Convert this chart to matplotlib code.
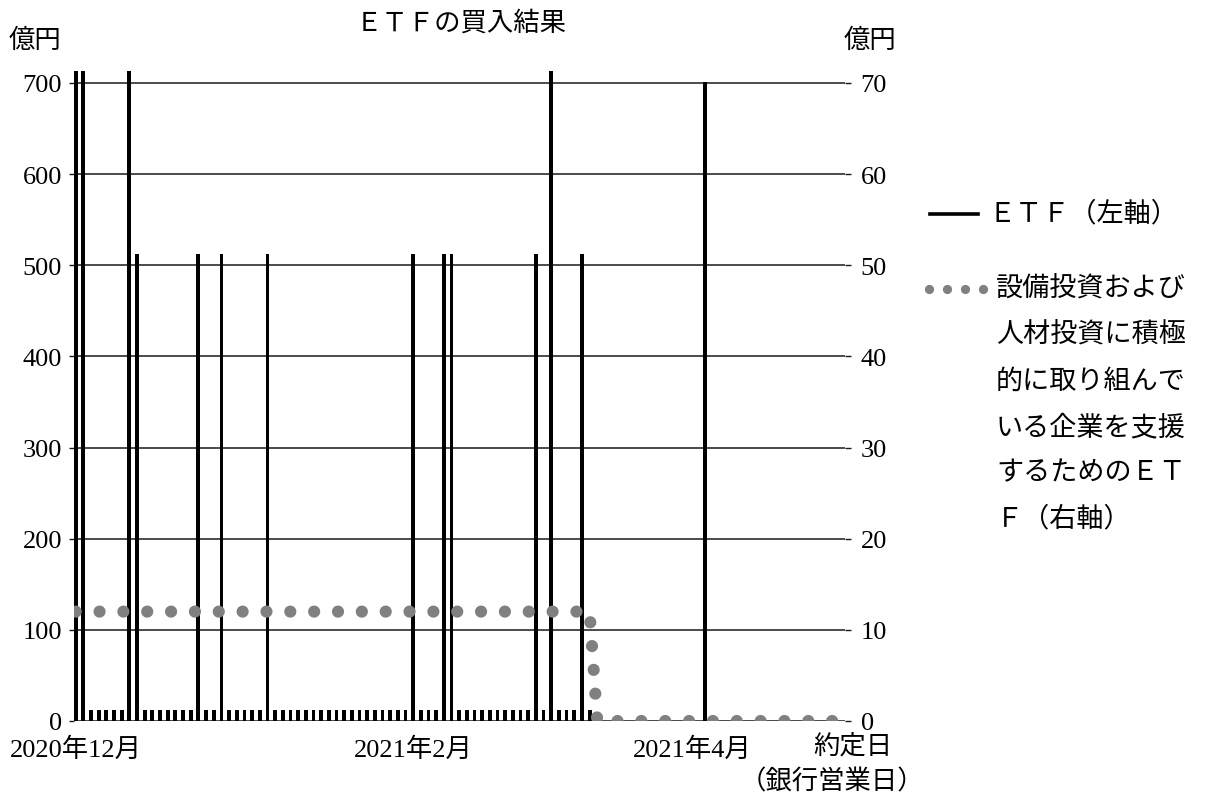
import numpy as np
import matplotlib.pyplot as plt
from matplotlib.lines import Line2D

plt.rcParams['font.family'] = ['Liberation Serif', 'Noto Sans CJK JP']

# ETF買入額（左軸、億円） 約定日（銀行営業日）ごと
etf = [1013, 1013, 12, 12, 12, 12, 12, 1013, 512, 12,
       12, 12, 12, 12, 12, 12, 512, 12, 12, 512,
       12, 12, 12, 12, 12, 512, 12, 12, 12, 12,
       12, 12, 12, 12, 12, 12, 12, 12, 12, 12,
       12, 12, 12, 12, 512, 12, 12, 12, 512, 512,
       12, 12, 12, 12, 12, 12, 12, 12, 12, 12,
       512, 12, 1013, 12, 12, 12, 512, 12, 0, 0,
       0, 0, 0, 0, 0, 0, 0, 0, 0, 0,
       0, 0, 701, 0, 0, 0, 0, 0, 0, 0,
       0, 0, 0, 0, 0, 0, 0, 0, 0, 0,
       0]

# 設備投資および人材投資に積極的に取り組んでいる企業を支援するためのETF（右軸、億円）
special = [12, 12, 12, 12, 12, 12, 12, 12, 12, 12,
           12, 12, 12, 12, 12, 12, 12, 12, 12, 12,
           12, 12, 12, 12, 12, 12, 12, 12, 12, 12,
           12, 12, 12, 12, 12, 12, 12, 12, 12, 12,
           12, 12, 12, 12, 12, 12, 12, 12, 12, 12,
           12, 12, 12, 12, 12, 12, 12, 12, 12, 12,
           12, 12, 12, 12, 12, 12, 12, 12, 0, 0,
           0, 0, 0, 0, 0, 0, 0, 0, 0, 0,
           0, 0, 0, 0, 0, 0, 0, 0, 0, 0,
           0, 0, 0, 0, 0, 0, 0, 0, 0, 0,
           0]

month_labels = ['2020年12月', '2021年2月', '2021年4月']
month_pos = [0, 44, 80.4]

legend_etf = 'ＥＴＦ（左軸）'
legend_special = ['設備投資および', '人材投資に積極', '的に取り組んで',
                  'いる企業を支援', 'するためのＥＴ', 'Ｆ（右軸）']

days = np.arange(len(etf))
W, H = 1216, 812
FS = 19

fig = plt.figure(figsize=(W / 100, H / 100), dpi=100)
ax = fig.add_axes([74 / W, 1 - 722 / H, (845 - 74) / W, (722 - 72) / H])

ax.bar(days, etf, width=0.5, color='black', zorder=2)
ax.set_xlim(-0.22, 100.3)
ax.set_ylim(0, 713)
ax.set_yticks(range(0, 701, 100))
ax.yaxis.grid(True, color='#1a1a1a', lw=1.1)
ax.set_axisbelow(True)
for s in ax.spines.values():
    s.set_visible(False)
ax.tick_params(axis='y', length=3.6, width=1, color='#1a1a1a', pad=5, labelsize=FS)
ax.set_xticks(month_pos)
ax.set_xticklabels(month_labels)
ax.tick_params(axis='x', length=0, pad=11, labelsize=FS)

ax2 = ax.twinx()
ax2.plot(days, special, color='#808080', lw=8.8, linestyle=(0, (0.001, 1.95)),
         dash_capstyle='round')
ax2.set_ylim(0, 71.3)
ax2.set_yticks(range(0, 71, 10))
for s in ax2.spines.values():
    s.set_visible(False)
ax2.tick_params(axis='y', length=4.3, width=1, color='#1a1a1a', pad=7, labelsize=FS)

# texts
fig.text(461 / W, 1 - 23 / H, 'ＥＴＦの買入結果', ha='center', va='center', size=FS)
fig.text(35 / W, 1 - 41 / H, '億円', ha='center', va='center', size=FS)
fig.text(870 / W, 1 - 41 / H, '億円', ha='center', va='center', size=FS)
fig.text(853 / W, 1 - 746 / H, '約定日', ha='center', va='center', size=FS)
fig.text(832 / W, 1 - 782 / H, '（銀行営業日）', ha='center', va='center', size=FS)

# legend
fig.add_artist(Line2D([930 / W, 978 / W], [1 - 215 / H] * 2, transform=fig.transFigure,
                      color='black', lw=2.6))
fig.text(988 / W, 1 - 215 / H, legend_etf, ha='left', va='center', size=FS + 0.5)
fig.add_artist(Line2D(np.array([929, 947, 965, 983]) / W, [1 - 290 / H] * 4,
                      transform=fig.transFigure, linestyle='none', marker='o',
                      markersize=5.6, color='#808080'))
for i, line in enumerate(legend_special):
    fig.text(996 / W, 1 - (290 + 46 * i) / H, line, ha='left', va='center', size=FS + 0.5)

fig.savefig('out.png', dpi=100)
